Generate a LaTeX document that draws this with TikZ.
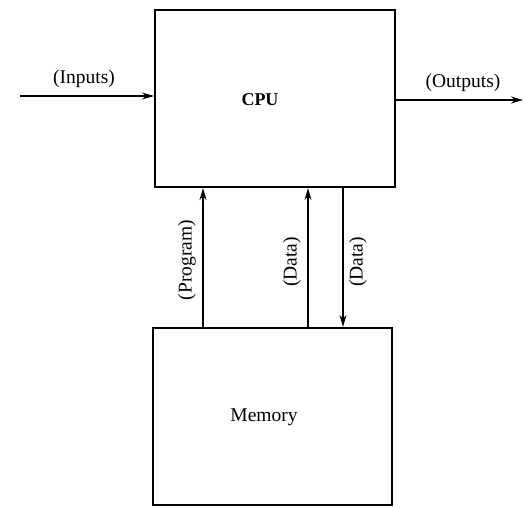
\documentclass[tikz,border=0pt]{standalone}
\usepackage{fontspec}
\setmainfont{Liberation Serif}
\usetikzlibrary{arrows.meta}
\begin{document}
\begin{tikzpicture}[x=1pt,y=-1pt,>={Stealth[length=12pt,width=7pt]},
    unitbox/.style={draw,line width=2.2pt,minimum width=240pt,minimum height=177pt,inner sep=0pt},
    flow/.style={->,line width=1.3pt},
    lbl/.style={font=\fontsize{19.5}{22}\selectfont}]
            \useasboundingbox (0,0) rectangle (523,509);
            \node[unitbox] (cpu) at (275,98.5) {};
            \node[unitbox,minimum width=239pt] (mem) at (272.5,416.5) {};
            \node[lbl,font=\fontsize{18}{21}\selectfont\bfseries] (cpulbl) at (260,100) {CPU};
            \node[lbl] (memlbl) at (264,417) {Memory};
            % inputs and outputs
            \coordinate (in) at (20,96);
            \coordinate (out) at (523,100);
            \draw[flow] (in) -- (in -| cpu.west);
            \draw[flow] (out -| cpu.east) -- (out);
            \node[lbl] (inlbl) at (84,79) {(Inputs)};
            \node[lbl] (outlbl) at (463,83) {(Outputs)};
            % buses between memory and cpu
            \coordinate (prog) at (203,0);
            \coordinate (dup) at (308,0);
            \coordinate (ddown) at (343,0);
            \draw[flow] (mem.north -| prog) -- (cpu.south -| prog);
            \draw[flow] (mem.north -| dup) -- (cpu.south -| dup);
            \draw[flow] (cpu.south -| ddown) -- (mem.north -| ddown);
            \node[lbl,rotate=90] (proglbl) at (187,260) {(Program)};
            \node[lbl,rotate=90] (duplbl) at (292,262) {(Data)};
            \node[lbl,rotate=90] (ddownlbl) at (358,262) {(Data)};
        \end{tikzpicture}
\end{document}
